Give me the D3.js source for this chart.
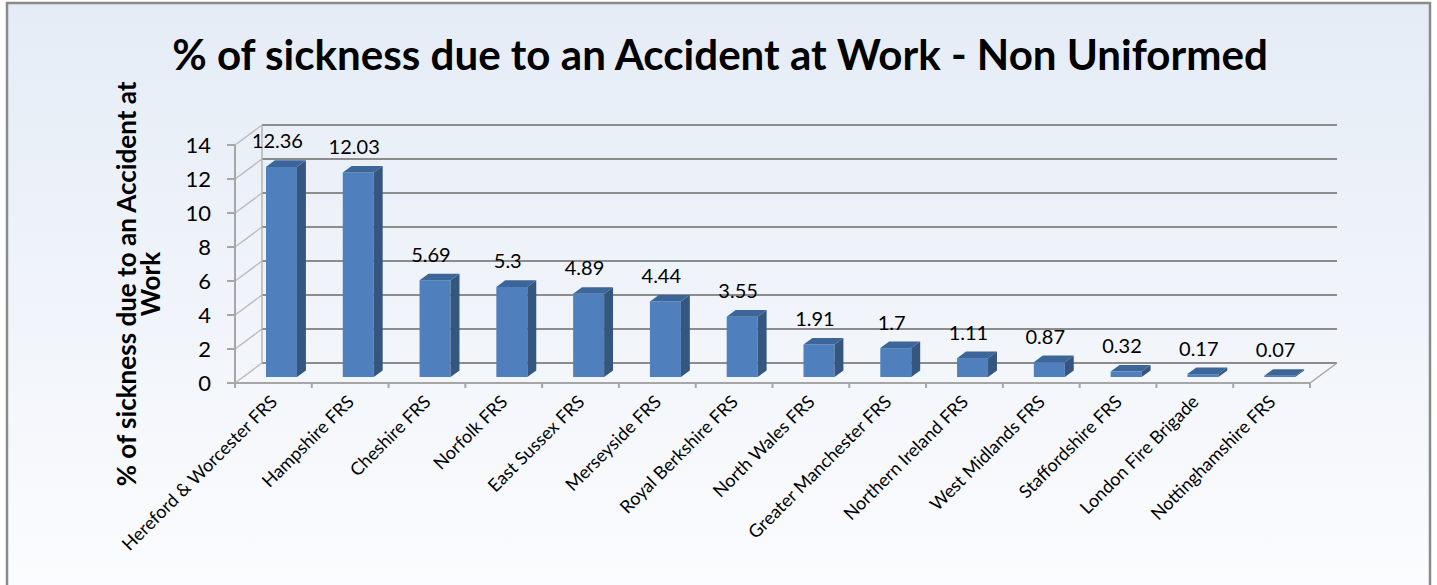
<!DOCTYPE html>
<html>
<head>
<meta charset="utf-8">
<script src="https://cdn.jsdelivr.net/npm/d3@7"></script>
<style>
  body { margin: 0; background: #fff; }
  text { font-family: Lato, "Open Sans", sans-serif; fill: #000; }
</style>
</head>
<body>
<svg id="chart" width="1437" height="585"></svg>
<script>
// data
var categories = ["Hereford & Worcester FRS", "Hampshire FRS", "Cheshire FRS", "Norfolk FRS",
  "East Sussex FRS", "Merseyside FRS", "Royal Berkshire FRS", "North Wales FRS",
  "Greater Manchester FRS", "Northern Ireland FRS", "West Midlands FRS",
  "Staffordshire FRS", "London Fire Brigade", "Nottinghamshire FRS"];
var values = [12.36, 12.03, 5.69, 5.3, 4.89, 4.44, 3.55, 1.91, 1.7, 1.11, 0.87, 0.32, 0.17, 0.07];
var yTicks = [0, 2, 4, 6, 8, 10, 12, 14];
var title = "% of sickness due to an Accident at Work - Non Uniformed";
var yTitle = ["% of sickness due to an Accident at", "Work"];

var svg = d3.select("#chart");

// depth of the 3d box
var DX = 27, DY = 20;

var x = d3.scaleBand().domain(categories).range([235, 1310]);
var y = d3.scaleLinear().domain([0, 14]).range([383, 145]);

// project a point at front x / value / depth fraction
function p(px, v, f) { return [px + f * DX, y(v) - f * DY]; }

// background
var defs = svg.append("defs");
var grad = defs.append("linearGradient").attr("id", "bg").attr("x1", 0).attr("y1", 0).attr("x2", 0).attr("y2", 1);
grad.append("stop").attr("offset", "0%").attr("stop-color", "#e5ecf6");
grad.append("stop").attr("offset", "100%").attr("stop-color", "#fbfcfe");
svg.append("rect").attr("x", 0).attr("y", 0).attr("width", 1437).attr("height", 585).attr("fill", "#fff");
svg.append("rect").attr("x", 7).attr("y", 3).attr("width", 1423).attr("height", 590)
  .attr("fill", "url(#bg)").attr("stroke", "#8a8a8a").attr("stroke-width", 2.5);

var x0 = x.range()[0], x1 = x.range()[1];

// left wall diagonals
svg.append("g").selectAll("line").data(yTicks).enter().append("line")
  .attr("x1", x0).attr("y1", function(d) { return y(d); })
  .attr("x2", x0 + DX).attr("y2", function(d) { return y(d) - DY; })
  .attr("stroke", "#bdbdbd").attr("stroke-width", 1.5);

// back wall gridlines
svg.append("g").selectAll("line").data(yTicks).enter().append("line")
  .attr("x1", x0 + DX).attr("x2", x1 + DX)
  .attr("y1", function(d) { return y(d) - DY; }).attr("y2", function(d) { return y(d) - DY; })
  .attr("stroke", "#8c8c8c").attr("stroke-width", 2);

// back left vertical + front axis line
svg.append("line").attr("x1", x0 + DX).attr("x2", x0 + DX).attr("y1", y(14) - DY).attr("y2", y(0) - DY)
  .attr("stroke", "#b5b5b5").attr("stroke-width", 1.5);
svg.append("line").attr("x1", x0).attr("x2", x0).attr("y1", y(14)).attr("y2", y(0))
  .attr("stroke", "#a6a6a6").attr("stroke-width", 2);

// floor edges
svg.append("line").attr("x1", x0).attr("x2", x1).attr("y1", y(0)).attr("y2", y(0))
  .attr("stroke", "#a6a6a6").attr("stroke-width", 2);
svg.append("line").attr("x1", x1).attr("x2", x1 + DX).attr("y1", y(0)).attr("y2", y(0) - DY)
  .attr("stroke", "#a6a6a6").attr("stroke-width", 1.5);

// y ticks
svg.append("g").selectAll("line").data(yTicks).enter().append("line")
  .attr("x1", x0 - 8).attr("x2", x0)
  .attr("y1", function(d) { return y(d); }).attr("y2", function(d) { return y(d); })
  .attr("stroke", "#a6a6a6").attr("stroke-width", 2);
svg.append("g").selectAll("text").data(yTicks).enter().append("text")
  .attr("x", 211).attr("y", function(d) { return y(d) + 8; })
  .attr("text-anchor", "end").style("font-size", "22px")
  .text(function(d) { return d; });

// category ticks
var edges = categories.map(function(c) { return x(c); }).concat([x1]);
svg.append("g").selectAll("line").data(edges).enter().append("line")
  .attr("x1", function(d) { return d; }).attr("x2", function(d) { return d; })
  .attr("y1", y(0)).attr("y2", y(0) + 5)
  .attr("stroke", "#a6a6a6").attr("stroke-width", 2);

// bars
var f0 = 0.3, f1 = 0.63, bw = 31;
var bars = svg.append("g").selectAll("g").data(values).enter().append("g");
function bx(d, i) { return x(categories[i]) + x.bandwidth() / 2 - bw / 2; }
function poly(pts) { return pts.map(function(q) { return q.join(","); }).join(" "); }

// front face
bars.append("polygon").attr("fill", "#4f7fbd").attr("points", function(d, i) {
  var l = bx(d, i);
  return poly([p(l, 0, f0), p(l + bw, 0, f0), p(l + bw, d, f0), p(l, d, f0)]);
});
// side face
bars.append("polygon").attr("fill", "#35567f").attr("points", function(d, i) {
  var r = bx(d, i) + bw;
  return poly([p(r, 0, f0), p(r, 0, f1), p(r, d, f1), p(r, d, f0)]);
});
// top face
bars.append("polygon").attr("fill", "#3c6699").attr("points", function(d, i) {
  var l = bx(d, i);
  return poly([p(l, d, f0), p(l + bw, d, f0), p(l + bw, d, f1), p(l, d, f1)]);
});

// data labels
bars.append("text")
  .attr("x", function(d, i) { return bx(d, i) + bw / 2 + 4; })
  .attr("y", function(d) { return y(d) - f1 * DY - 12; })
  .attr("text-anchor", "middle").style("font-size", "20px")
  .text(function(d) { return d; });

// category labels
svg.append("g").selectAll("text").data(categories).enter().append("text")
  .attr("text-anchor", "end").style("font-size", "18px")
  .attr("transform", function(d) {
    return "translate(" + (x(d) + x.bandwidth() / 2 + 5) + ",403) rotate(-45)";
  })
  .text(function(d) { return d; });

// title
var t = svg.append("text").attr("x", 720).attr("y", 70).attr("text-anchor", "middle")
  .style("font-size", "34px").style("font-weight", "bold").text(title);
var tw = t.node().getComputedTextLength();
t.style("font-size", (34 * 1096 / tw) + "px");

// y axis title
var yt = svg.append("g").attr("transform", "translate(0,284) rotate(-90)");
var l1 = yt.append("text").attr("x", 0).attr("y", 136).attr("text-anchor", "middle")
  .style("font-size", "22px").style("font-weight", "bold").text(yTitle[0]);
var w1 = l1.node().getComputedTextLength();
var fs = 22 * 405 / w1;
l1.style("font-size", fs + "px");
yt.append("text").attr("x", 0).attr("y", 160).attr("text-anchor", "middle")
  .style("font-size", fs + "px").style("font-weight", "bold").text(yTitle[1]);
</script>
</body>
</html>
